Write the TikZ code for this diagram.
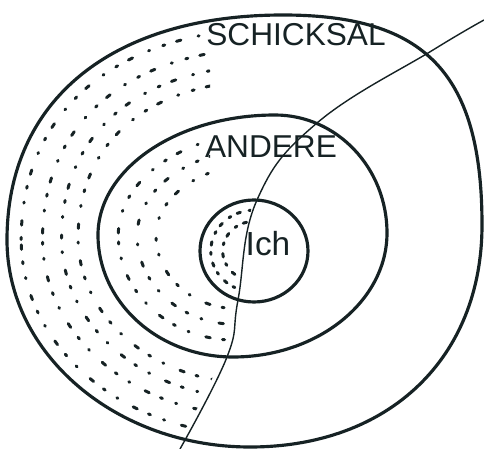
\documentclass[tikz,border=0pt]{standalone}
\usepackage{fontspec}
\setmainfont{Liberation Sans}
\usepackage{tikz}
\usetikzlibrary{calc}
\definecolor{ink}{RGB}{22, 34, 36}

\tikzset{
    outerring/.style={insert path={(7,240) .. controls (7,100) and (112,15) .. (283,15)
        .. controls (426,15) and (482,74) .. (482,225)
        .. controls (482,358) and (389,447) .. (250,447)
        .. controls (116,447) and (7,354) .. cycle}},
    middlering/.style={insert path={(98,235) .. controls (98,169) and (177,115) .. (275,115)
        .. controls (337,115) and (387,168) .. (387,233)
        .. controls (387,301) and (318,357) .. (233,357)
        .. controls (158,357) and (98,302) .. cycle}},
    innerring/.style={insert path={(254,251) circle[x radius=54, y radius=51]}}
}

\begin{document}
\begin{tikzpicture}[x=0.02cm, y=-0.02cm,
    ring/.style={draw=ink, line width=1.8pt},
    cut/.style={draw=ink, line width=0.8pt},
    speckle/.style={draw=ink, line width=1.7pt, line cap=round, dash pattern=on 1.2pt off 7pt on 2.6pt off 10pt on 0.6pt off 8pt},
    label/.style={text=ink, inner sep=0pt}]
    \useasboundingbox (0,0) rectangle (484,449);

    % --- Punkte links der Linie ---
    \begin{scope}
        \clip (252,205) -- plot[smooth] coordinates {(252,205) (234,300) (222,357) (176,449)} -- (0,449) -- (0,0) -- (210,0) -- (210,205) -- cycle;
        \foreach \s/\p in {0.94/0, 0.85/5, 0.77/9, 0.70/3}
            \draw[speckle, dash phase=\p pt, scale around={\s:(244,232)}, outerring];
        \foreach \s/\p in {0.86/7, 0.73/2, 0.60/11}
            \draw[speckle, dash phase=\p pt, scale around={\s:(243,236)}, middlering];
        \foreach \s/\p in {0.80/0, 0.58/3}
            \draw[speckle, dash pattern=on 1.2pt off 4pt on 2pt off 5pt, dash phase=\p pt, scale around={\s:(254,251)}, innerring];
    \end{scope}

    % --- Ringe ---
    \draw[ring, outerring];
    \draw[ring, middlering];
    \draw[ring, innerring];

    % --- Schnittlinie ---
    \draw[cut] plot[smooth, tension=0.7] coordinates {(484,20) (433,50) (317,123) (257,200) (238,300) (227,357) (180,449)};

    % --- Beschriftung ---
    \node[label, font=\fontsize{18}{18}\selectfont] (schicksal) at (296,35) {SCHICKSAL};
    \node[label, font=\fontsize{18}{18}\selectfont] (andere) at (271,147) {ANDERE};
    \node[label, font=\fontsize{19}{19}\selectfont] (ich) at (268,244) {Ich};
\end{tikzpicture}
\end{document}
